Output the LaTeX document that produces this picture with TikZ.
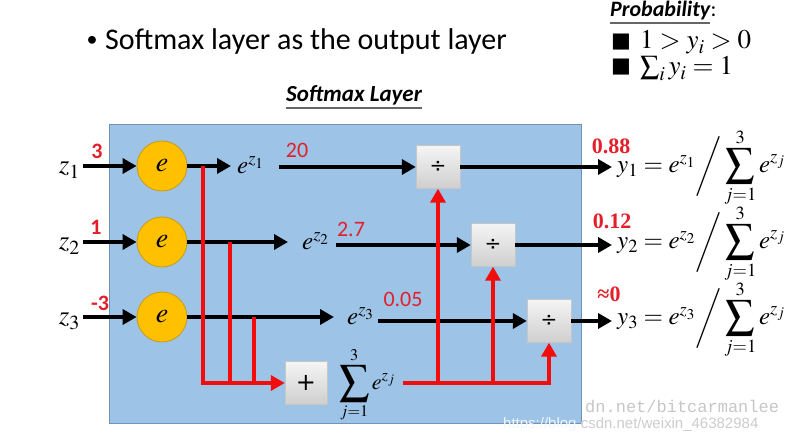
\documentclass[tikz,border=0pt]{standalone}
\usepackage{mathptmx}
\usepackage{graphicx}
\usepackage[no-math]{fontspec}
\setmainfont{Carlito}
\newfontfamily\tms{Liberation Serif}
\newfontfamily\mono{Liberation Mono}
\newfontfamily\arialf{Liberation Sans}
\newfontfamily\djv{DejaVu Sans}
\usetikzlibrary{arrows.meta}
\newcommand{\bsum}[1]{\mathop{\vcenter{\hbox{\scalebox{#1}{$\displaystyle\sum$}}}}\limits}
\definecolor{bluebg}{HTML}{9DC3E6}
\definecolor{blueedge}{HTML}{6F93B8}
\definecolor{gold}{HTML}{FFC000}
\definecolor{goldedge}{HTML}{C89B1E}
\definecolor{rline}{HTML}{F20D0D}
\definecolor{rtext}{HTML}{E3202A}
\tikzset{
  arr/.style={line width=3.6pt,-{Triangle[length=14pt,width=15pt]}},
  rarr/.style={line width=3.6pt,rline,-{Triangle[length=14pt,width=15pt]}},
  rl/.style={line width=3.6pt,rline},
  enode/.style={circle,minimum size=50pt,inner sep=0,fill=gold,draw=goldedge,line width=0.8pt,font=\fontsize{28}{30}\selectfont},
  gbox/.style={rectangle,minimum width=44pt,minimum height=43pt,inner sep=0,top color=gray!8,bottom color=gray!38,draw=gray!45,line width=0.4pt},
  txt/.style={inner sep=0},
  rnb/.style={inner sep=0,text=rtext,font=\bfseries\fontsize{22}{24}\selectfont},
  rnr/.style={inner sep=0,text=rtext,font=\fontsize{22}{26}\selectfont},
  rns/.style={inner sep=0,text=rtext,font=\tms\bfseries\fontsize{22}{26}\selectfont},
  mth/.style={inner sep=0,font=\fontsize{25}{28}\selectfont},
  wmk/.style={inner sep=0,anchor=base west,font=\arialf\fontsize{15}{18}\selectfont},
}
\begin{document}
\begin{tikzpicture}[x=1pt,y=-1pt]
\useasboundingbox (0,0) rectangle (785,435);
% background panel
\fill[bluebg,draw=blueedge,line width=0.6pt] (109,124) rectangle (581,423);

% header texts
\node[txt,anchor=base,font=\fontsize{22}{26}\selectfont] (bul) at (92,47) {•};
\node[txt,anchor=base west,font=\fontsize{30}{36}\selectfont] (title) at (105,50) {Softmax layer as the output layer};
\node[txt,anchor=base,font=\bfseries\itshape\fontsize{23}{28}\selectfont] (sl) at (354,102) {Softmax Layer};
\draw[line width=1.3pt,gray!80!black] ([yshift=-6pt]sl.base west) -- ([yshift=-6pt]sl.base east);
\node[txt,anchor=base west,font=\bfseries\itshape\fontsize{22}{26}\selectfont] (pb) at (610,17) {Probability};
\node[txt,anchor=base west,font=\fontsize{22}{26}\selectfont] (pbc) at (pb.base east) {:};
\draw[line width=1.2pt,gray!80!black] ([yshift=-6pt]pb.base west) -- ([yshift=-6pt]pb.base east);
\node[txt,anchor=base west,font=\djv\fontsize{21}{24}\selectfont] (sq1) at (611,48) {■};
\node[txt,anchor=base west,font=\fontsize{27}{30}\selectfont] (pr1) at (640,49) {$1 > y_i > 0$};
\node[txt,anchor=base west,font=\djv\fontsize{21}{24}\selectfont] (sq2) at (611,73) {■};
\node[txt,anchor=base west,font=\fontsize{27}{30}\selectfont] (pr2) at (640,75) {$\sum_i y_i = 1$};

% inputs
\node[txt,anchor=base east,font=\fontsize{27}{30}\selectfont] (z1) at (80,174) {$z_1$};
\node[txt,anchor=base east,font=\fontsize{27}{30}\selectfont] (z2) at (80,250) {$z_2$};
\node[txt,anchor=base east,font=\fontsize{27}{30}\selectfont] (z3) at (80,325) {$z_3$};
\node[enode] (c1) at (162,166) {$e$};
\node[enode] (c2) at (162,242) {$e$};
\node[enode] (c3) at (162,317) {$e$};
\coordinate (i1) at (83,166);
\coordinate (i2) at (83,242);
\coordinate (i3) at (83,317);
\draw[arr] (i1) -- (c1.west);
\draw[arr] (i2) -- (c2.west);
\draw[arr] (i3) -- (c3.west);
\node[rnb] (n1) at (97,151) {3};
\node[rnb] (n2) at (96,227) {1};
\node[rnb] (n3) at (100,303) {-3};

% exponentials
\node[txt,anchor=base west,font=\fontsize{25}{28}\selectfont] (ez1) at (237,174) {$e^{z_1}$};
\node[txt,anchor=base west,font=\fontsize{25}{28}\selectfont] (ez2) at (302,250) {$e^{z_2}$};
\node[txt,anchor=base west,font=\fontsize{25}{28}\selectfont] (ez3) at (347,325) {$e^{z_3}$};
\coordinate (t1) at (231,166);
\coordinate (t2) at (288,242);
\coordinate (t3) at (334,317);
\draw[arr] (c1.east) -- (t1);
\draw[arr] (c2.east) -- (t2);
\draw[arr] (c3.east) -- (t3);
\node[rnr] (v1) at (297,150) {20};
\node[rnr] (v2) at (351,229) {2.7};
\node[rnr] (v3) at (403,299) {0.05};

% division boxes
\node[gbox] (d1) at (438,167) {\djv\fontsize{20}{22}\selectfont ÷};
\node[gbox] (d2) at (493,245) {\djv\fontsize{20}{22}\selectfont ÷};
\node[gbox] (d3) at (549,321) {\djv\fontsize{20}{22}\selectfont ÷};
\coordinate (s1) at (279,167);
\coordinate (s2) at (336,245);
\coordinate (s3) at (378,321);
\draw[arr] (s1) -- (d1.west);
\draw[arr] (s2) -- (d2.west);
\draw[arr] (s3) -- (d3.west);

% sum box
\node[gbox,minimum width=42pt] (p) at (306,383) {\djv\fontsize{24}{26}\selectfont +};
\node[txt,font=\fontsize{22}{26}\selectfont] (sm) at (367,385) {$\displaystyle\bsum{1.35}_{j=1}^{3} e^{z_j}$};

% outputs
\node[txt,anchor=west,mth] (y1) at (617,168) {$y_1 = e^{z_1}\bigg/\displaystyle\bsum{1.15}_{j=1}^{3} e^{z_j}$};
\node[txt,anchor=west,mth] (y2) at (617,244) {$y_2 = e^{z_2}\bigg/\displaystyle\bsum{1.15}_{j=1}^{3} e^{z_j}$};
\node[txt,anchor=west,mth] (y3) at (617,320) {$y_3 = e^{z_3}\bigg/\displaystyle\bsum{1.15}_{j=1}^{3} e^{z_j}$};
\coordinate (o1) at (612,167);
\coordinate (o2) at (612,245);
\coordinate (o3) at (612,321);
\draw[arr] (d1.east) -- (o1);
\draw[arr] (d2.east) -- (o2);
\draw[arr] (d3.east) -- (o3);
\node[rns] (p1) at (611,146) {0.88};
\node[rns] (p2) at (612,221) {0.12};
\node[rns] (p3) at (609,294) {≈0};

% red sum network
\coordinate (a1) at (203,166);
\coordinate (a2) at (230,242);
\coordinate (a3) at (254,317);
\draw[rarr] (a1) |- (p.west);
\draw[rl] (a2) -- (a2 |- p.west);
\draw[rl] (a3) -- (a3 |- p.west);
\coordinate (q) at (403,383);
\draw[rarr] (q) -| (d3.south);
\draw[rarr] (d1.south |- q) -- (d1.south);
\draw[rarr] (d2.south |- q) -- (d2.south);

% watermark
\node[txt,anchor=base west,font=\mono\fontsize{17}{20}\selectfont,text=gray!45] (wm2) at (585,413) {dn.net/bitcarmanlee};
\begin{scope}
\clip (109,124) rectangle (581,435);
\node[wmk,text=white!85!bluebg] (wm1a) at (503,429) {https://blog.csdn.net/weixin\_46382984};
\end{scope}
\begin{scope}
\clip (581,380) rectangle (785,435);
\node[wmk,text=gray!40] (wm1b) at (503,429) {https://blog.csdn.net/weixin\_46382984};
\end{scope}
\end{tikzpicture}
\end{document}
